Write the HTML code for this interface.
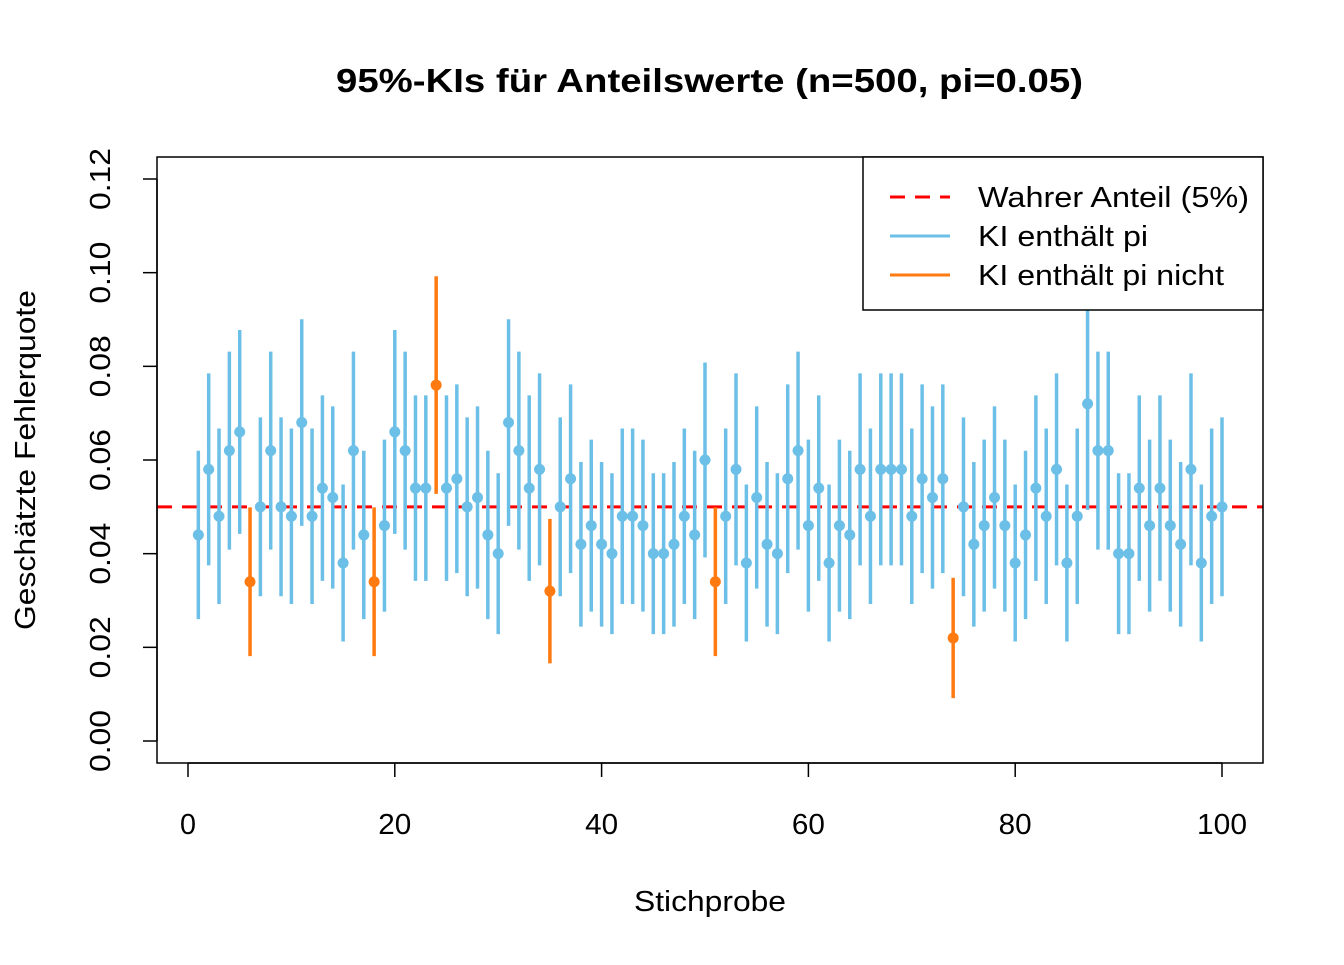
<!DOCTYPE html>
<html><head><meta charset="utf-8">
<style>
html,body{margin:0;padding:0;background:#fff;}
svg text{font-family:"Liberation Sans",Arial,sans-serif;}
</style></head>
<body>
<svg id="s" width="1344" height="960" xmlns="http://www.w3.org/2000/svg">
<rect width="1344" height="960" fill="#fff"/>
<text x="336" y="92" font-size="33" font-weight="bold" textLength="747" lengthAdjust="spacingAndGlyphs">95%-KIs für Anteilswerte (n=500, pi=0.05)</text>
<text x="634" y="911" font-size="29" textLength="152" lengthAdjust="spacingAndGlyphs">Stichprobe</text>
<text transform="translate(35,630) rotate(-90)" font-size="29" textLength="340" lengthAdjust="spacingAndGlyphs">Geschätzte Fehlerquote</text>
<g id="plot"></g>
<rect x="157" y="157" width="1106" height="606" fill="none" stroke="#000" stroke-width="1.5"/>
<rect x="863" y="157" width="400" height="153" fill="#fff" stroke="#000" stroke-width="1.5"/>
<line x1="890" y1="197" x2="950" y2="197" stroke="#ff0000" stroke-width="3" stroke-dasharray="15,10"/>
<line x1="890" y1="236" x2="950" y2="236" stroke="#6cbfe6" stroke-width="3"/>
<line x1="890" y1="275" x2="950" y2="275" stroke="#ff7a10" stroke-width="3"/>
<text x="978" y="207" font-size="29" textLength="271" lengthAdjust="spacingAndGlyphs">Wahrer Anteil (5%)</text>
<text x="978" y="246" font-size="29" textLength="170" lengthAdjust="spacingAndGlyphs">KI enthält pi</text>
<text x="978" y="285" font-size="29" textLength="246" lengthAdjust="spacingAndGlyphs">KI enthält pi nicht</text>
</svg>
<script>
var p=[0.044,0.058,0.048,0.062,0.066,0.034,0.050,0.062,0.050,0.048,0.068,0.048,0.054,0.052,0.038,0.062,0.044,0.034,0.046,0.066,0.062,0.054,0.054,0.076,0.054,0.056,0.050,0.052,0.044,0.040,0.068,0.062,0.054,0.058,0.032,0.050,0.056,0.042,0.046,0.042,0.040,0.048,0.048,0.046,0.040,0.040,0.042,0.048,0.044,0.060,0.034,0.048,0.058,0.038,0.052,0.042,0.040,0.056,0.062,0.046,0.054,0.038,0.046,0.044,0.058,0.048,0.058,0.058,0.058,0.048,0.056,0.052,0.056,0.022,0.050,0.042,0.046,0.052,0.046,0.038,0.044,0.054,0.048,0.058,0.038,0.048,0.072,0.062,0.062,0.040,0.040,0.054,0.046,0.054,0.046,0.042,0.058,0.038,0.048,0.050];
function X(i){return 188+i*10.34;}
function Y(v){return 741-v*4683.3;}
var h='';
for(var i=0;i<=100;i+=20){var x=X(i);var w=(i==0?16:(i==100?50:33));h+='<line x1="'+x+'" y1="763" x2="'+x+'" y2="777" stroke="#000" stroke-width="1.5"/><text x="'+(x-w/2)+'" y="834" font-size="29" textLength="'+w+'" lengthAdjust="spacingAndGlyphs">'+i+'</text>';}
h+='<line x1="188" y1="763" x2="1222" y2="763" stroke="#000" stroke-width="1.5"/>';
for(var k=0;k<=6;k++){var v=k*0.02,y=Y(v);h+='<line x1="143" y1="'+y+'" x2="157" y2="'+y+'" stroke="#000" stroke-width="1.5"/><text transform="translate(110,'+(y+31)+') rotate(-90)" font-size="29" textLength="62" lengthAdjust="spacingAndGlyphs">'+v.toFixed(2)+'</text>';}
h+='<line x1="157" y1="'+Y(0)+'" x2="157" y2="'+Y(0.12)+'" stroke="#000" stroke-width="1.5"/>';
h+='<line x1="157" y1="'+Y(0.05)+'" x2="1263" y2="'+Y(0.05)+'" stroke="#ff0000" stroke-width="3" stroke-dasharray="15,10"/>';
for(var i=0;i<100;i++){var q=p[i],se=1.96*Math.sqrt(q*(1-q)/500),lo=q-se,hi=q+se;var c=(lo<=0.05&&hi>=0.05)?'#6cbfe6':'#ff7a10';var x=X(i+1);
h+='<line x1="'+x+'" y1="'+Y(lo)+'" x2="'+x+'" y2="'+Y(hi)+'" stroke="'+c+'" stroke-width="3.5"/><circle cx="'+x+'" cy="'+Y(q)+'" r="5.5" fill="'+c+'"/>';}
document.getElementById('plot').innerHTML=h;
</script>
</body></html>
